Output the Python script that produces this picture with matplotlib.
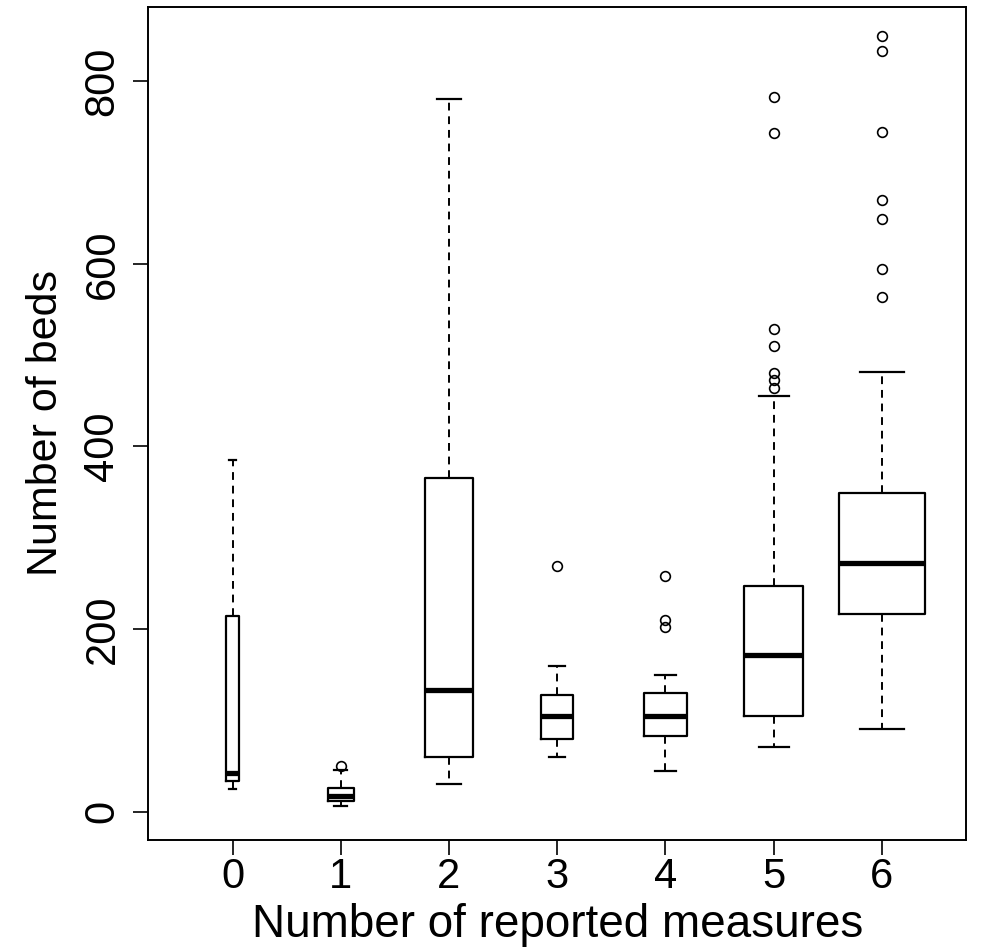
import numpy as np
import matplotlib.pyplot as plt

plt.rcParams['font.family'] = ['Liberation Sans', 'DejaVu Sans']

# Box statistics (number of beds)
measures = [0, 1, 2, 3, 4, 5, 6]
whis_lo = [25, 6, 30, 60, 44, 71, 90]
q1 = [33, 12, 60, 80, 83, 105, 216]
med = [42, 17, 133, 105, 105, 172, 272]
q3 = [214, 26, 365, 128, 130, 247, 349]
whis_hi = [385, 45, 781, 160, 150, 455, 482]
fliers = [[], [50], [], [269], [258, 210, 202],
          [783, 744, 529, 510, 481, 473, 464],
          [850, 833, 745, 670, 649, 594, 564]]
# relative box widths (R varwidth style)
box_w = [0.12, 0.24, 0.45, 0.30, 0.40, 0.55, 0.80]

stats = []
for i in range(len(measures)):
    stats.append({'whislo': whis_lo[i], 'q1': q1[i], 'med': med[i], 'q3': q3[i],
                  'whishi': whis_hi[i], 'fliers': fliers[i], 'label': str(measures[i])})

fig = plt.figure(figsize=(9.81, 9.5), dpi=100)
ax = fig.add_axes([0.151, 0.116, 0.834, 0.877])

ax.bxp(stats, positions=measures, widths=box_w, capwidths=[w / 2 for w in box_w],
       boxprops=dict(color='black', linewidth=1.6),
       medianprops=dict(color='black', linewidth=3.8, solid_capstyle='butt'),
       whiskerprops=dict(color='black', linewidth=1.4, linestyle=(0, (4, 3))),
       capprops=dict(color='black', linewidth=1.6),
       flierprops=dict(marker='o', markerfacecolor='none', markeredgecolor='black',
                       markersize=7, markeredgewidth=1.2))

ax.set_xlim(-0.78, 6.78)
ax.set_ylim(-31, 882)
ax.set_xticks(measures)
ax.set_xticklabels([str(m) for m in measures])
ax.set_yticks([0, 200, 400, 600, 800])
ax.set_yticklabels(['0', '200', '400', '600', '800'], rotation=90, va='center')
ax.tick_params(axis='both', labelsize=30, length=10.5, width=1.2, direction='out')
ax.tick_params(axis='x', pad=2)
ax.tick_params(axis='y', pad=8)
for s in ax.spines.values():
    s.set_linewidth(1.4)

ax.set_xlabel('Number of reported measures', fontsize=33, labelpad=4)
ax.set_ylabel('Number of beds', fontsize=31, labelpad=12)

fig.savefig('out.png', dpi=100)
